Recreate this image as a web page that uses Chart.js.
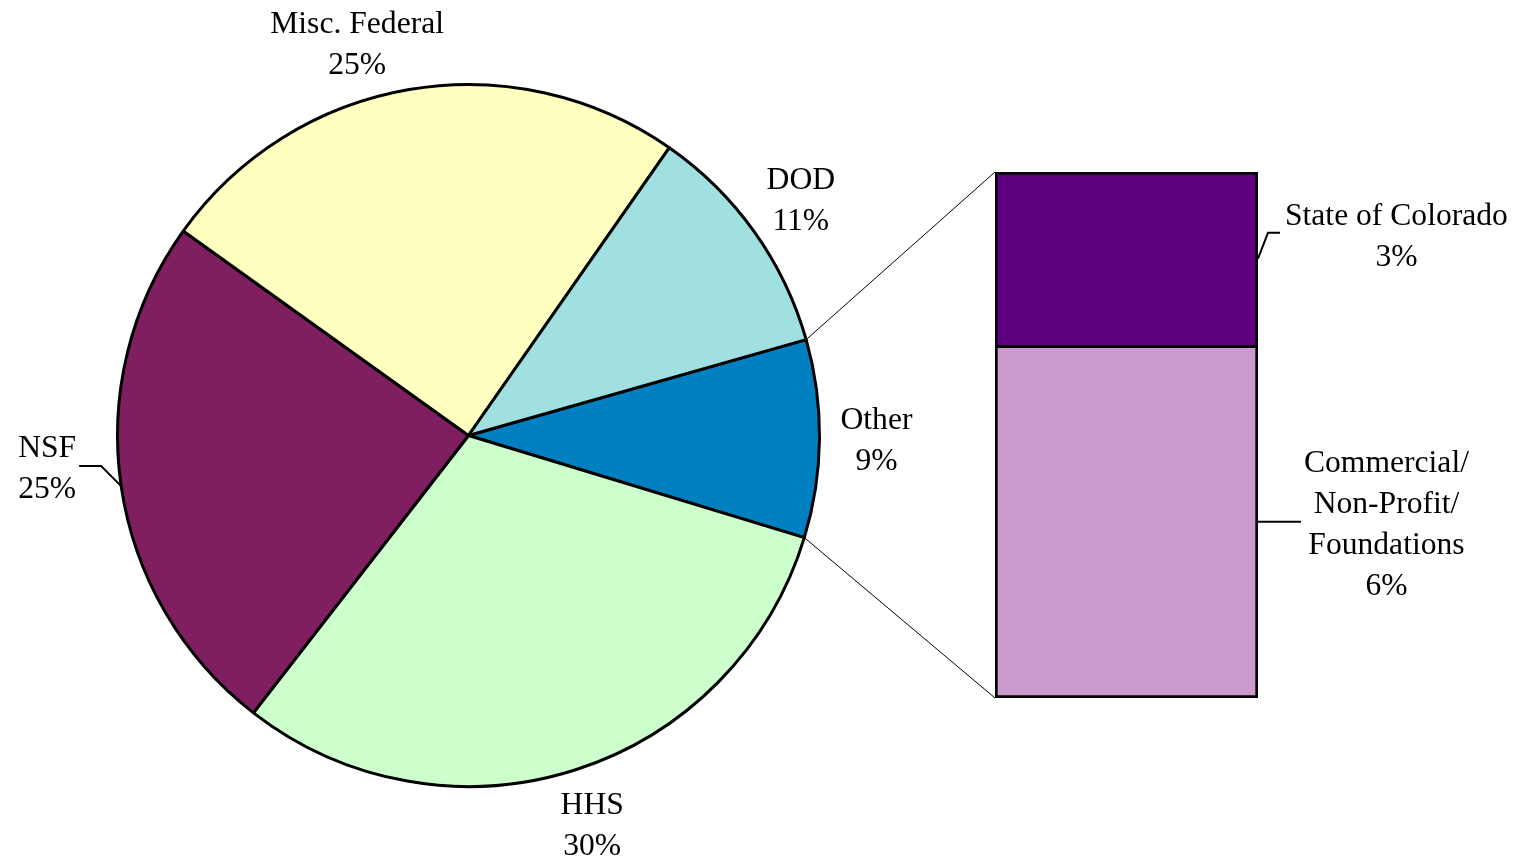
<!DOCTYPE html>
<html>
<head>
<meta charset="utf-8">
<script src="https://cdn.jsdelivr.net/npm/chart.js@4.4.0/dist/chart.umd.min.js"></script>
<style>
html, body { margin: 0; padding: 0; background: #fff; }
#wrap { position: relative; width: 1524px; height: 868px; }
#wrap canvas { position: absolute; left: 0; top: 0; }
</style>
</head>
<body>
<div id="wrap">
	<canvas id="pie" width="1524" height="868"></canvas>
	<canvas id="bar" width="1524" height="868"></canvas>
</div>
<script>
// pie slices, clockwise starting at the top edge of "Other"
var pieNames = ['Other', 'HHS', 'NSF', 'Misc. Federal', 'DOD'];
var pieValues = [9.1, 30.8, 24.4, 24.8, 10.9];
var pieLabels = ['9%', '30%', '25%', '25%', '11%'];
var pieColors = ['#0080C0', '#CCFFCC', '#7F1F5F', '#FFFFC0', '#A0E0E0'];

// breakdown of "Other", stacked bottom to top
var barNames = [['Commercial/', 'Non-Profit/', 'Foundations'], ['State of Colorado']];
var barValues = [6.1, 3.0];
var barLabels = ['6%', '3%'];
var barColors = ['#CC99CC', '#5F007F'];

var FONT = '31.6px "Liberation Serif", "Times New Roman", serif';
var LINE = 41;
var CAP = 10.5; // half the cap height, to centre text on a line

function blockWidth(ctx, lines){
	var w = 0;
	for(var i=0; i<lines.length; i++){
		w = Math.max(w, ctx.measureText(lines[i]).width);
	}
	return w;
}

function drawBlock(ctx, lines, cx, cy){
	var top = cy - (lines.length - 1) * LINE / 2;
	for(var i=0; i<lines.length; i++){
		ctx.fillText(lines[i], cx, top + i * LINE + CAP);
	}
}

//labels round the pie
var pieLabelPlugin = {
	id: 'pieLabels',
	afterDatasetsDraw: function(chart){
		var ctx = chart.ctx;
		var arcs = chart.getDatasetMeta(0).data;
		ctx.save();
		ctx.font = FONT;
		ctx.fillStyle = '#000';
		ctx.strokeStyle = '#000';
		ctx.lineWidth = 2;
		ctx.textAlign = 'center';
		ctx.textBaseline = 'alphabetic';
		for(var i=0; i<arcs.length; i++){
			var p = arcs[i].getProps(['x', 'y', 'startAngle', 'endAngle', 'outerRadius'], true);
			var mid = (p.startAngle + p.endAngle) / 2;
			var c = Math.cos(mid), s = Math.sin(mid);
			var lines = [pieNames[i], pieLabels[i]];
			var w = blockWidth(ctx, lines);
			var h = lines.length * LINE;
			var cx, cy;
			if(pieNames[i] == 'NSF'){
				// label pulled out with a leader line
				var rx = p.x + c * p.outerRadius, ry = p.y + s * p.outerRadius;
				var ex = rx - 20, ey = ry - 20;
				var hx = ex - 22;
				ctx.beginPath();
				ctx.moveTo(rx, ry);
				ctx.lineTo(ex, ey);
				ctx.lineTo(hx, ey);
				ctx.stroke();
				cx = hx - 3 - w / 2;
				cy = ey + 1;
			} else {
				var d = p.outerRadius + 57;
				cx = p.x + c * d;
				cy = p.y + s * d;
				// slide along the ring if the block would leave the top of the page
				var minY = h / 2 + 2;
				if(cy < minY){
					var sn = (minY - p.y) / d;
					var cs = Math.sqrt(1 - sn * sn) * (c < 0 ? -1 : 1);
					cx = p.x + cs * d;
					cy = minY;
				}
			}
			drawBlock(ctx, lines, cx, cy);
		}
		ctx.restore();
	}
};

var pieChart = new Chart(document.getElementById('pie'), {
	type: 'pie',
	data: {
		labels: pieNames,
		datasets: [{
			data: pieValues,
			backgroundColor: pieColors,
			borderColor: '#000',
			borderWidth: 3,
			hoverOffset: 0
		}]
	},
	options: {
		responsive: false,
		animation: false,
		events: [],
		rotation: 74.15,
		layout: { padding: { left: 116, top: 83, right: 703, bottom: 80 } },
		plugins: {
			legend: { display: false },
			tooltip: { enabled: false }
		}
	},
	plugins: [pieLabelPlugin]
});

//connector lines and bar labels
var barExtras = {
	id: 'barExtras',
	afterDatasetsDraw: function(chart){
		var ctx = chart.ctx;
		var other = pieChart.getDatasetMeta(0).data[0].getProps(['x', 'y', 'startAngle', 'endAngle', 'outerRadius'], true);
		var low = chart.getDatasetMeta(0).data[0].getProps(['x', 'y', 'base', 'width'], true);
		var high = chart.getDatasetMeta(1).data[0].getProps(['x', 'y', 'base', 'width'], true);
		var left = high.x - high.width / 2;
		var right = high.x + high.width / 2;

		ctx.save();
		ctx.strokeStyle = '#000';
		ctx.lineWidth = 1;
		ctx.beginPath();
		ctx.moveTo(other.x + Math.cos(other.startAngle) * other.outerRadius, other.y + Math.sin(other.startAngle) * other.outerRadius);
		ctx.lineTo(left, Math.min(high.y, high.base));
		ctx.moveTo(other.x + Math.cos(other.endAngle) * other.outerRadius, other.y + Math.sin(other.endAngle) * other.outerRadius);
		ctx.lineTo(left, Math.max(low.y, low.base));
		ctx.stroke();

		ctx.font = FONT;
		ctx.fillStyle = '#000';
		ctx.lineWidth = 2;
		ctx.textAlign = 'center';
		ctx.textBaseline = 'alphabetic';

		// Commercial / Non-Profit / Foundations
		var lines = barNames[0].concat([barLabels[0]]);
		var my = (low.y + low.base) / 2;
		var w = blockWidth(ctx, lines);
		ctx.beginPath();
		ctx.moveTo(right, my);
		ctx.lineTo(right + 43, my);
		ctx.stroke();
		drawBlock(ctx, lines, right + 46 + w / 2, my + 1);

		// State of Colorado
		lines = barNames[1].concat([barLabels[1]]);
		my = (high.y + high.base) / 2;
		w = blockWidth(ctx, lines);
		ctx.beginPath();
		ctx.moveTo(right, my);
		ctx.lineTo(right + 10, my - 26);
		ctx.lineTo(right + 22, my - 26);
		ctx.stroke();
		drawBlock(ctx, lines, right + 27 + w / 2, my - 24);
		ctx.restore();
	}
};

var barTotal = 0;
for(var k=0; k<barValues.length; k++) barTotal += barValues[k];

var barSets = [];
for(var j=0; j<barValues.length; j++){
	barSets.push({
		label: barNames[j].join(' '),
		data: [barValues[j]],
		backgroundColor: barColors[j],
		borderColor: '#000',
		borderWidth: 3,
		borderSkipped: j == 0 ? false : 'start',
		barPercentage: 1,
		categoryPercentage: 1
	});
}

var barChart = new Chart(document.getElementById('bar'), {
	type: 'bar',
	data: { labels: ['Other'], datasets: barSets },
	options: {
		responsive: false,
		animation: false,
		events: [],
		layout: { padding: { left: 995, right: 266, top: 172, bottom: 170 } },
		scales: {
			x: { display: false, stacked: true },
			y: { display: false, stacked: true, min: 0, max: barTotal }
		},
		plugins: {
			legend: { display: false },
			tooltip: { enabled: false }
		}
	},
	plugins: [barExtras]
});
</script>
</body>
</html>
